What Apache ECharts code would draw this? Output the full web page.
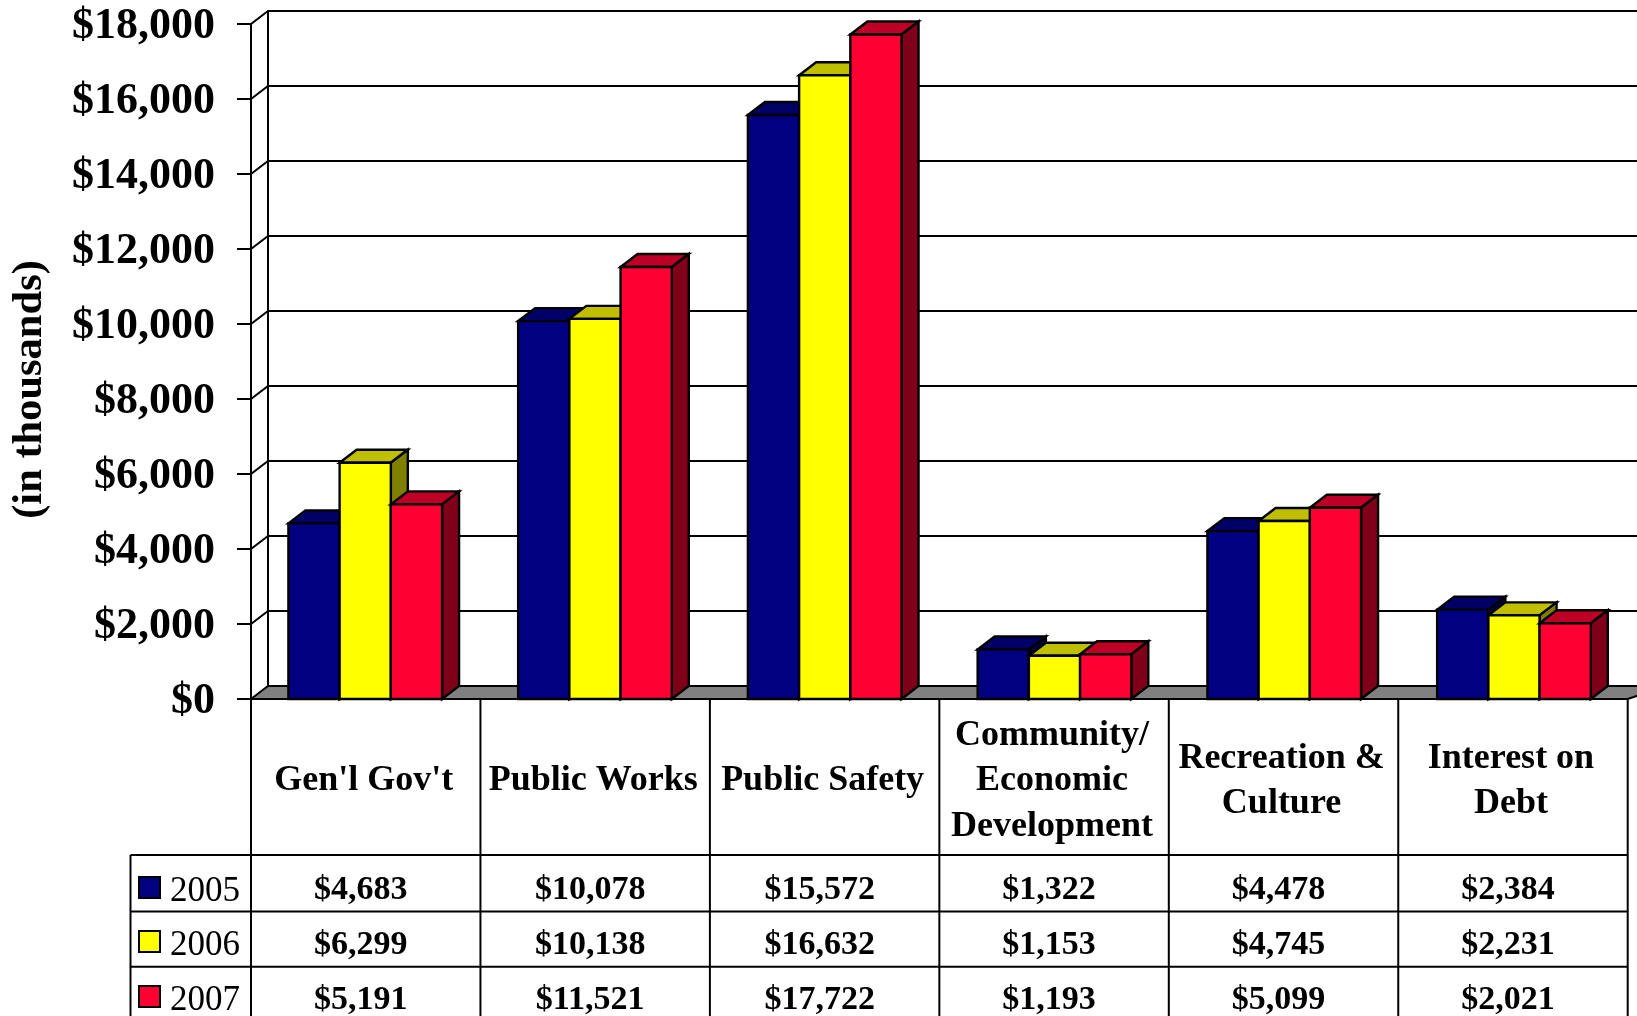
<!DOCTYPE html>
<html>
<head>
<meta charset="utf-8">
<style>html,body{margin:0;padding:0;background:#fff}#c{width:1637px;height:1016px}</style>
<script src="https://cdn.jsdelivr.net/npm/echarts@6/dist/echarts.min.js"></script>
</head>
<body>
<div id="c"></div>
<script>
const categories = ["Gen'l Gov't", "Public Works", "Public Safety", "Community/\nEconomic\nDevelopment", "Recreation &\nCulture", "Interest on\nDebt"];
const years = ["2005", "2006", "2007"];
const values2005 = [4683, 10078, 15572, 1322, 4478, 2384];
const values2006 = [6299, 10138, 16632, 1153, 4745, 2231];
const values2007 = [5191, 11521, 17722, 1193, 5099, 2021];
const yTicks = [0, 2000, 4000, 6000, 8000, 10000, 12000, 14000, 16000, 18000];
const frontColors = ["#000080", "#FFFF00", "#FF0033"];
const topColors = ["#000066", "#BFBF00", "#BF0026"];
const sideColors = ["#000040", "#808000", "#800019"];

const FONT = '"Liberation Serif", serif';
const DX = 17, DY = 13;
const L = 251, R = 1627.7, T = 24, B = 699;
const W = 1637, H = 1016;
const money = v => '$' + v.toLocaleString('en-US');

const seriesValues = [values2005, values2006, values2007];

function barRender(si) {
  return function (params, api) {
    const cat = api.value(0), val = api.value(1);
    const base = api.coord([cat, 0]);
    const top = api.coord([cat, val]);
    const w = api.size([1, 0])[0] / 4.48;
    const x0 = base[0] + (si - 1.5) * w - (5 - cat) * 0.3 + 1, x1 = x0 + w;
    const y0 = base[1], y1 = top[1];
    const st = f => ({ fill: f, stroke: '#000', lineWidth: 2.4, lineJoin: 'miter' });
    return {
      type: 'group',
      children: [
        { type: 'polygon', shape: { points: [[x0, y1], [x0 + DX, y1 - DY], [x1 + DX, y1 - DY], [x1, y1]] }, style: st(topColors[si]) },
        { type: 'polygon', shape: { points: [[x1, y1], [x1 + DX, y1 - DY], [x1 + DX, y0 - DY], [x1, y0]] }, style: st(sideColors[si]) },
        { type: 'rect', shape: { x: x0, y: y1, width: w, height: y0 - y1 }, style: st(frontColors[si]) }
      ]
    };
  };
}

function wallRender(params, api) {
  const v = api.value(0);
  const cs = params.coordSys;
  const y = api.coord([0, v])[1];
  const ln = { stroke: '#000', lineWidth: 2, fill: null };
  const children = [];
  if (v === 0) {
    children.push({ type: 'polygon', shape: { points: [[L, y], [L + DX, y - DY], [W + 30, y - DY], [R, y]] }, style: { fill: '#808080', stroke: '#000', lineWidth: 2 } });
    children.push({ type: 'line', shape: { x1: L + DX, y1: T - DY, x2: L + DX, y2: y - DY }, style: ln });
  } else {
    children.push({ type: 'polyline', shape: { points: [[cs.x, y], [cs.x + DX, y - DY], [W + 5, y - DY]] }, style: ln });
  }
  return { type: 'group', children };
}

const lineStyle = { stroke: '#000', lineWidth: 2 };
const tableGraphics = [];
const catW = (R - L) / categories.length;
const rowY = [855, 911.5, 966.7];
const mkLine = (x1, y1, x2, y2) => ({ type: 'line', silent: true, z: 10, shape: { x1, y1, x2, y2 }, style: lineStyle });
tableGraphics.push(mkLine(L, B, R, B));
for (let i = 0; i <= categories.length; i++) {
  tableGraphics.push(mkLine(L + i * catW, B, L + i * catW, H));
}
tableGraphics.push(mkLine(130.5, rowY[0], 130.5, H));
rowY.forEach(y => tableGraphics.push(mkLine(130.5, y, R, y)));
const textY = [890, 945, 1000];
seriesValues.forEach((vals, r) => {
  vals.forEach((v, c) => {
    tableGraphics.push({
      type: 'text', silent: true, z: 11,
      style: { x: L + (c + 0.5) * catW - 5, y: textY[r], text: money(v), align: 'center', verticalAlign: 'middle', font: 'bold 34px ' + FONT, fill: '#000' }
    });
  });
});

const legendTops = [870, 924, 979];

const chart = echarts.init(document.getElementById('c'), null, { renderer: 'canvas', width: W, height: H });
chart.setOption({
  animation: false,
  backgroundColor: '#fff',
  grid: { left: L, top: T, width: R - L, height: B - T, containLabel: false },
  legend: years.map((y, i) => ({
    orient: 'vertical', left: 138, top: legendTops[i], padding: 0, selectedMode: false,
    data: [{ name: y, icon: 'rect', itemStyle: { color: frontColors[i], borderColor: '#000', borderWidth: 2 } }],
    itemWidth: 21, itemHeight: 21, align: 'left',
    formatter: n => '{s|}{a|' + n + '}',
    textStyle: {
      fontFamily: FONT, fontSize: 35, color: '#000', padding: [0, 0, 0, 5],
      rich: {
        s: { height: 44, width: 0 },
        a: { fontFamily: FONT, fontSize: 35, color: '#000', lineHeight: 34, verticalAlign: 'bottom' }
      }
    }
  })),
  xAxis: {
    type: 'category', data: categories,
    axisLine: { show: false }, axisTick: { show: false }, splitLine: { show: false },
    axisLabel: { interval: 0, margin: 82, verticalAlign: 'middle', align: 'center', hideOverlap: false, fontFamily: FONT, fontWeight: 'bold', fontSize: 36, lineHeight: 45.5, color: '#000', padding: [0, 4, 0, 0] }
  },
  yAxis: {
    type: 'value', min: 0, max: 18000, interval: 2000,
    name: '(in thousands)', nameLocation: 'middle', nameRotate: 90, nameGap: 199,
    nameTextStyle: { fontFamily: FONT, fontWeight: 'bold', fontSize: 42.5, color: '#000', padding: [0, 56, 0, 0] },
    axisLine: { show: true, lineStyle: { color: '#000', width: 2 } },
    axisTick: { show: true, length: 14, lineStyle: { color: '#000', width: 2 } },
    splitLine: { show: false },
    axisLabel: { margin: 36, fontFamily: FONT, fontWeight: 'bold', fontSize: 44, color: '#000', verticalAlign: 'top', lineHeight: 6, formatter: v => money(v) }
  },
  series: [
    {
      type: 'custom', name: 'wall', coordinateSystem: 'cartesian2d', clip: false, silent: true, z: 1,
      encode: { y: 0 }, renderItem: wallRender, data: yTicks.map(v => [v])
    }
  ].concat(years.map((y, si) => ({
    type: 'custom', name: y, coordinateSystem: 'cartesian2d', clip: false, z: 2 + si,
    itemStyle: { color: frontColors[si] },
    encode: { x: 0, y: 1 }, renderItem: barRender(si),
    data: seriesValues[si].map((v, c) => [c, v])
  }))),
  graphic: { elements: tableGraphics }
});
</script>
</body>
</html>
